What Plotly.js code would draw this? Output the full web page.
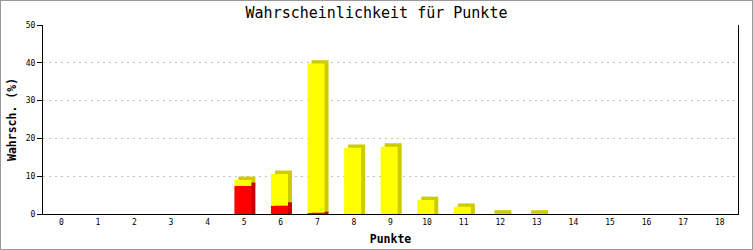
<!DOCTYPE html>
<html>
<head>
<meta charset="utf-8">
<script src="https://cdn.plot.ly/plotly-3.0.1.min.js"></script>
<style>
  html, body { margin: 0; padding: 0; background: #fff; }
  #chart { width: 751px; height: 248px; border: 1px solid #999; }
</style>
</head>
<body>
<div id="chart"></div>
<script>
// ---- Data ----
const categories = [0,1,2,3,4,5,6,7,8,9,10,11,12,13,14,15,16,17,18];
const tickLabels = ['0','1','2','3','4','5','6','7','8','9','10','11','12','13','14','15','16','17','18'];
const redValues    = [0,0,0,0,0,7.4,2.2,0.3,0,0,0,0,0,0,0,0,0,0,0];
const yellowValues = [0,0,0,0,0,1.6,8.4,39.5,17.5,17.8,3.7,1.9,0.1,0.1,0,0,0,0,0];

// ---- 3D look parameters (styling) ----
const depthY = 0.9;        // upward shift of the back face (axis units)
const frontOffset = -0.268;
const backOffset = -0.159;
const barWidth = 0.465;

const totals = categories.map((c, i) => redValues[i] + yellowValues[i]);
const yellowDepth = categories.map((c, i) => totals[i] > 0 ? yellowValues[i] + depthY : 0);
const redDepth = categories.map((c, i) => redValues[i] > 0 ? redValues[i] + Math.min(depthY, redValues[i]) : 0);

const common = { type: 'bar', x: categories, width: barWidth, hoverinfo: 'skip' };

const traces = [
  Object.assign({}, common, { y: yellowDepth, base: redValues, offset: backOffset, marker: { color: '#cccc00', line: { width: 0 } } }),
  Object.assign({}, common, { y: redDepth, base: categories.map(() => 0), offset: backOffset, marker: { color: '#cc0000', line: { width: 0 } } }),
  Object.assign({}, common, { y: redValues, base: categories.map(() => 0), offset: frontOffset, marker: { color: '#ff0000', line: { width: 0 } } }),
  Object.assign({}, common, { y: yellowValues, base: redValues, offset: frontOffset, marker: { color: '#ffff00', line: { width: 0 } } })
];

const mono = 'DejaVu Sans Mono, Liberation Mono, monospace';

const layout = {
  width: 751, height: 248,
  margin: { l: 42, r: 14, t: 24, b: 35, pad: 0 },
  paper_bgcolor: '#fff', plot_bgcolor: '#fff',
  barmode: 'overlay',
  showlegend: false,
  hovermode: false,
  title: {
    text: 'Wahrscheinlichkeit für Punkte',
    font: { family: mono, size: 15, color: '#000' },
    x: 0.5, xref: 'container', xanchor: 'center',
    y: 0.952, yref: 'container', yanchor: 'middle'
  },
  xaxis: {
    range: [-0.5, 18.5],
    tickvals: categories, ticktext: tickLabels,
    showgrid: false, zeroline: false,
    showline: true, linecolor: '#000', linewidth: 1,
    ticks: '',
    tickfont: { family: mono, size: 8, color: '#000' },
    title: { text: 'Punkte', font: { family: mono, size: 11.5, color: '#000', weight: 'bold' }, standoff: 9 },
    fixedrange: true
  },
  yaxis: {
    range: [0, 50], dtick: 10, tick0: 0,
    showgrid: true, gridcolor: '#c0c0c0', griddash: '2px,4px', gridwidth: 1,
    zeroline: false,
    showline: true, linecolor: '#000', linewidth: 1, mirror: true,
    ticks: 'outside', ticklen: 5, tickcolor: '#000', tickwidth: 1,
    tickfont: { family: mono, size: 8, color: '#000' },
    title: { text: 'Wahrsch. (%)', font: { family: mono, size: 11.5, color: '#000', weight: 'bold' }, standoff: 6 },
    fixedrange: true
  }
};

Plotly.newPlot('chart', traces, layout, { displayModeBar: false, staticPlot: true });
</script>
</body>
</html>
